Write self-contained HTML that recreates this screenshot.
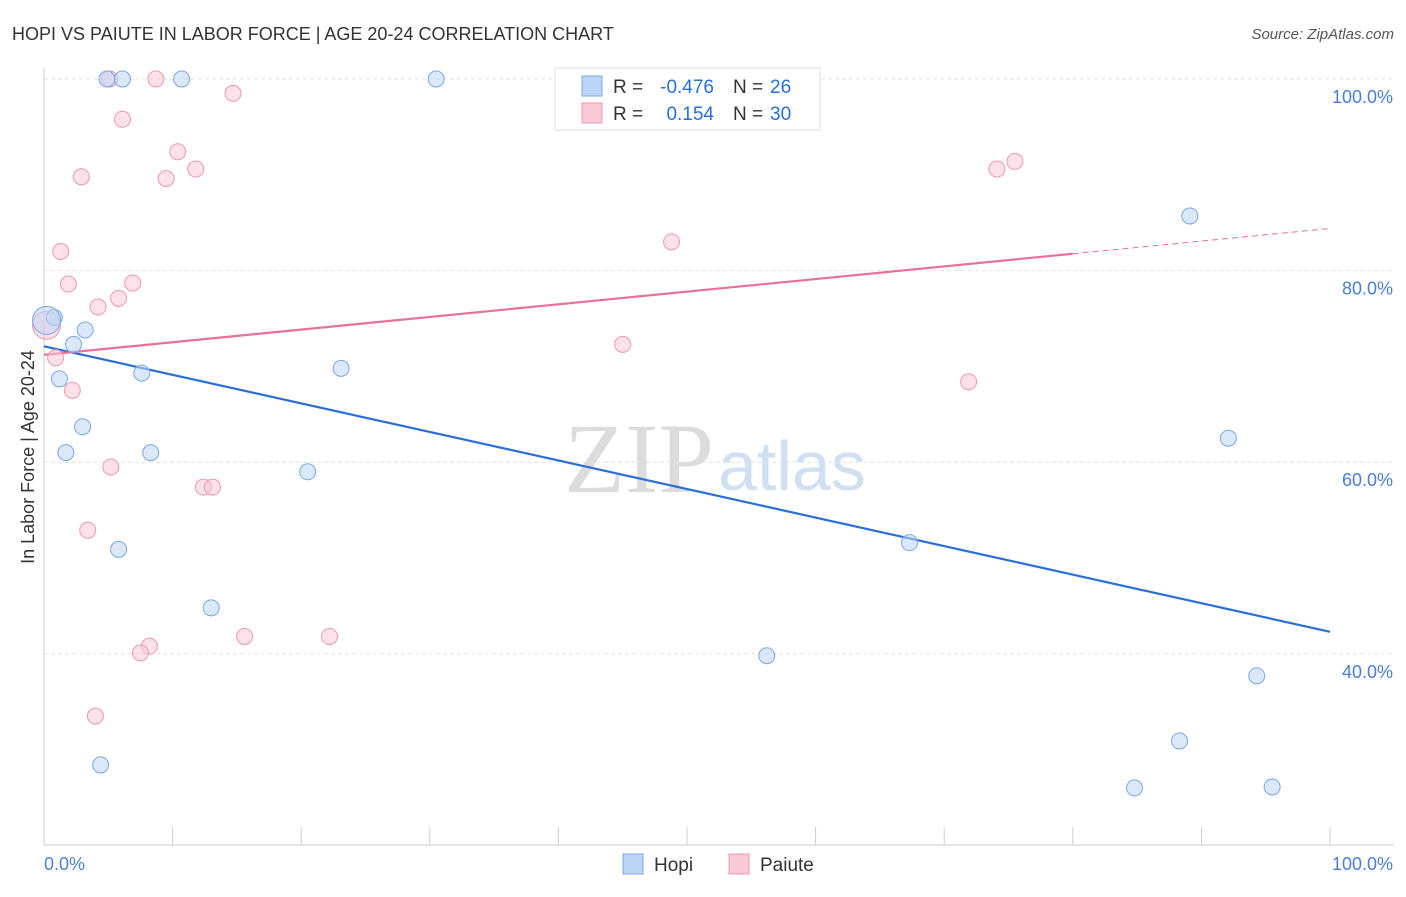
<!DOCTYPE html>
<html><head><meta charset="utf-8"><style>
body{margin:0;background:#fff;font-family:"Liberation Sans",sans-serif;}
svg text{font-family:"Liberation Sans",sans-serif;}
</style></head><body>
<svg id="chart" width="1406" height="892" xmlns="http://www.w3.org/2000/svg">
<text x="12" y="40" font-size="18" fill="#333">HOPI VS PAIUTE IN LABOR FORCE | AGE 20-24 CORRELATION CHART</text>
<text x="1394" y="39" font-size="15" fill="#555" font-style="italic" text-anchor="end">Source: ZipAtlas.com</text>
<text x="714" y="492" font-size="100" fill="#dcdcdc" style="font-family:'Liberation Serif',serif" text-anchor="end">ZIP</text>
<text x="718" y="490" font-size="70" fill="#cfe0f3">atlas</text>
<g id="grid"></g><g id="axes"></g><g id="lines"></g><g id="pts"></g>
<text transform="translate(34,457) rotate(-90)" font-size="18" fill="#333" text-anchor="middle">In Labor Force | Age 20-24</text>
<text x="44" y="870" font-size="18" fill="#4a7fd4">0.0%</text>
<text x="1393" y="870" font-size="18" fill="#4a7fd4" text-anchor="end">100.0%</text>
<g>
<rect x="555" y="68" width="265" height="62" fill="#fff" stroke="#ddd"/>
<rect x="582" y="76" width="20" height="20" fill="#bcd5f5" stroke="#7aa7e6"/>
<rect x="582" y="103" width="20" height="20" fill="#f9c9d6" stroke="#ec97b0"/>
<text x="613" y="93" font-size="19" fill="#333">R =</text>
<text x="714" y="93" font-size="19" fill="#2a6fd6" text-anchor="end">-0.476</text>
<text x="733" y="93" font-size="19" fill="#333">N =</text>
<text x="770" y="93" font-size="19" fill="#2a6fd6">26</text>
<text x="613" y="120" font-size="19" fill="#333">R =</text>
<text x="714" y="120" font-size="19" fill="#2a6fd6" text-anchor="end">0.154</text>
<text x="733" y="120" font-size="19" fill="#333">N =</text>
<text x="770" y="120" font-size="19" fill="#2a6fd6">30</text>
</g>
<g>
<rect x="623" y="854" width="20" height="20" fill="#bcd5f5" stroke="#7aa7e6"/>
<text x="654" y="871" font-size="19" fill="#333">Hopi</text>
<rect x="729" y="854" width="20" height="20" fill="#f9c9d6" stroke="#ec97b0"/>
<text x="760" y="871" font-size="19" fill="#333">Paiute</text>
</g>
</svg>
<script>
const yTicks=[100,80,60,40];
const yTickLabels=["100.0%","80.0%","60.0%","40.0%"];
const xTicks=[0,10,20,30,40,50,60,70,80,90,100];
const hopiX=[4.9,6.1,10.7,30.5,89.1,0.8,3.2,2.3,7.6,1.2,23.1,3.0,1.7,8.3,20.5,92.1,5.8,67.3,13.0,56.2,94.3,88.3,4.4,84.8,95.5,0.2];
const hopiY=[100,100,100,100,85.7,75.1,73.8,72.3,69.3,68.7,69.8,63.7,61.0,61.0,59.0,62.5,50.9,51.6,44.8,39.8,37.7,30.9,28.4,26.0,26.1,74.8];
const hopiSize=[1,1,1,1,1,1,1,1,1,1,1,1,1,1,1,1,1,1,1,1,1,1,1,1,1,2];
const paiuteX=[5.1,8.7,14.7,6.1,10.4,2.9,9.5,11.8,74.1,75.5,1.3,48.8,1.9,6.9,5.8,4.2,0.2,45.0,0.9,2.2,71.9,5.2,12.4,13.1,3.4,15.6,22.2,8.2,7.5,4.0];
const paiuteY=[100,100,98.5,95.8,92.4,89.8,89.6,90.6,90.6,91.4,82.0,83.0,78.6,78.7,77.1,76.2,74.3,72.3,70.9,67.5,68.4,59.5,57.4,57.4,52.9,41.8,41.8,40.8,40.1,33.5];
const paiuteSize=[1,1,1,1,1,1,1,1,1,1,1,1,1,1,1,1,2,1,1,1,1,1,1,1,1,1,1,1,1,1];
const hopiTrend=[72.1,42.3];
const paiuteTrend=[71.2,84.4];
const paiuteSolidEnd=80;
const NS="http://www.w3.org/2000/svg";
const X=v=>44+v*12.86, Y=v=>79+(100-v)*9.58;
function mk(t,a,p){const e=document.createElementNS(NS,t);for(const k in a)e.setAttribute(k,a[k]);p.appendChild(e);return e;}
const grid=document.getElementById('grid'),axes=document.getElementById('axes'),lines=document.getElementById('lines'),pts=document.getElementById('pts');
yTicks.forEach((v,i)=>{
 const l=mk('line',{x1:44,x2:1394,y1:Y(v),y2:Y(v),stroke:'#e2e2e2','stroke-dasharray':'4 3'},grid);
 
 
 const t=mk('text',{x:1393,y:Y(v)+24,'font-size':18,fill:'#4a7fd4','text-anchor':'end'},grid);
 t.textContent=yTickLabels[i];
 
 
});
const ya=mk('line',{x1:44,x2:44,y1:68,y2:845,stroke:'#ccc'},axes);


const xa=mk('line',{x1:44,x2:1394,y1:845,y2:845,stroke:'#ccc'},axes);


xTicks.forEach(v=>{const t=mk('line',{x1:X(v),x2:X(v),y1:827,y2:845,stroke:'#ccc'},axes);
 
 });
function dots(xs,ys,ss,fill,stroke,name){xs.forEach((x,i)=>{const c=mk('circle',{cx:X(x),cy:Y(ys[i]),r:ss[i]>1?14:8,fill:fill,'fill-opacity':0.55,stroke:stroke,'stroke-width':1},pts);
 
 });}
dots(paiuteX,paiuteY,paiuteSize,'#f9c9d6','#ec97b0','paiute-point');
dots(hopiX,hopiY,hopiSize,'#bcd5f5','#7aa7e6','hopi-point');
const hl=mk('line',{x1:X(0),y1:Y(hopiTrend[0]),x2:X(100),y2:Y(hopiTrend[1]),stroke:'#2a6fd6','stroke-width':2.2},lines);


const pm=paiuteTrend[0]+(paiuteTrend[1]-paiuteTrend[0])*paiuteSolidEnd/100;
const pl=mk('line',{x1:X(0),y1:Y(paiuteTrend[0]),x2:X(paiuteSolidEnd),y2:Y(pm),stroke:'#e8709a','stroke-width':2.2},lines);


const pd=mk('line',{x1:X(paiuteSolidEnd),y1:Y(pm),x2:X(100),y2:Y(paiuteTrend[1]),stroke:'#e8709a','stroke-width':1,'stroke-dasharray':'6 4'},lines);


</script>
</body></html>
